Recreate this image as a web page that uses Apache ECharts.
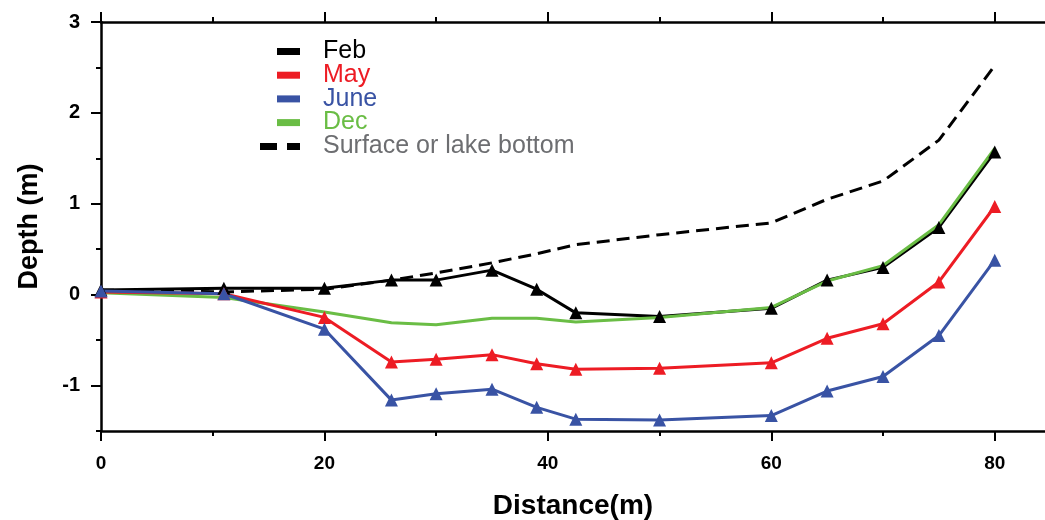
<!DOCTYPE html>
<html>
<head>
<meta charset="utf-8">
<script src="https://cdn.jsdelivr.net/npm/echarts@6/dist/echarts.min.js"></script>
<style>html,body{margin:0;padding:0;background:#fff}#c{width:1045px;height:520px}</style>
</head>
<body>
<div id="c"></div>
<script>
const distance = [0, 11, 20, 26, 30, 35, 39, 42.5, 50, 60, 65, 70, 75, 80];
const feb     = [0.05, 0.07, 0.07, 0.16, 0.16, 0.27, 0.06, -0.20, -0.24, -0.15, 0.16, 0.30, 0.74, 1.57];
const may     = [0.03, 0.01, -0.25, -0.74, -0.71, -0.66, -0.76, -0.82, -0.81, -0.75, -0.48, -0.32, 0.14, 0.97];
const june    = [0.04, 0.01, -0.38, -1.16, -1.09, -1.04, -1.24, -1.37, -1.38, -1.33, -1.06, -0.90, -0.45, 0.38];
const dec     = [0.02, -0.03, -0.19, -0.31, -0.33, -0.26, -0.26, -0.30, -0.25, -0.14, 0.15, 0.32, 0.77, 1.61];
const surface = [0.05, 0.03, 0.06, 0.16, 0.24, 0.35, 0.45, 0.55, 0.66, 0.79, 1.05, 1.25, 1.70, 2.52];

const xMajorTicks = [0, 20, 40, 60, 80];
const xMinorTicks = [10, 30, 50, 70];
const yMajorTicks = [-1, 0, 1, 2, 3];
const yMinorTicks = [-1.5, -0.5, 0.5, 1.5, 2.5];

const pairs = ys => distance.map((x, i) => [x, ys[i]]);

const FONT = '"Liberation Sans", Arial, Helvetica, sans-serif';
const C = { feb: '#000000', may: '#ED1C24', june: '#3953A4', dec: '#6ABD45', surf: '#000000', surfText: '#6D6E71' };

const X_MIN = 0, X_MAX = 84.5, Y_MIN = -1.5, Y_MAX = 3;
const lineAx = { show: true, onZero: false, lineStyle: { color: '#000', width: 2.5 } };

function xAx(pos, ticks, len, showLine, labels, name) {
  const a = {
    type: 'value', position: pos, min: X_MIN, max: X_MAX, gridIndex: 0,
    axisLine: showLine ? lineAx : { show: false, onZero: false },
    axisTick: { show: true, customValues: ticks, length: len, lineStyle: { color: '#000', width: 2 } },
    axisLabel: labels ? { show: true, customValues: ticks, fontFamily: FONT, fontWeight: 'bold', fontSize: 19, color: '#000', margin: 23 } : { show: false },
    splitLine: { show: false }
  };
  if (name) {
    a.name = name; a.nameLocation = 'middle'; a.nameGap = 61;
    a.nameTextStyle = { fontFamily: FONT, fontWeight: 'bold', fontSize: 28, color: '#000' };
  }
  return a;
}
function yAx(ticks, len, showLine, labels, name) {
  const a = {
    type: 'value', position: 'left', min: Y_MIN, max: Y_MAX, gridIndex: 0,
    axisLine: showLine ? lineAx : { show: false, onZero: false },
    axisTick: { show: true, customValues: ticks, length: len, lineStyle: { color: '#000', width: 2 } },
    axisLabel: labels ? { show: true, customValues: ticks, fontFamily: FONT, fontWeight: 'bold', fontSize: 20, color: '#000', margin: 21 } : { show: false },
    splitLine: { show: false }
  };
  if (name) {
    a.name = name; a.nameLocation = 'middle'; a.nameGap = 58;
    a.nameTextStyle = { fontFamily: FONT, fontWeight: 'bold', fontSize: 27, color: '#000' };
  }
  return a;
}

function lineSeries(name, ys, color, withSymbol, dashed) {
  return {
    name: name, type: 'line', data: pairs(ys), xAxisIndex: 0, yAxisIndex: 0,
    symbol: withSymbol ? 'triangle' : 'none', symbolSize: 13,
    itemStyle: { color: color },
    lineStyle: { color: color, width: 3, type: dashed ? [13, 7] : 'solid' },
    emphasis: { disabled: true }, animation: false, clip: false
  };
}

const chart = echarts.init(document.getElementById('c'), null, { renderer: 'canvas' });
chart.setOption({
  backgroundColor: '#ffffff',
  animation: false,
  grid: { left: 101, top: 22, right: 0, bottom: 89, containLabel: false, outerBoundsMode: 'none' },
  xAxis: [
    xAx('bottom', xMajorTicks, 10, true, true, 'Distance(m)'),
    xAx('bottom', xMinorTicks, 5, false, false),
    xAx('top', xMajorTicks, 10, true, false),
    xAx('top', xMinorTicks, 5, false, false)
  ],
  yAxis: [
    yAx(yMajorTicks, 10, true, true, 'Depth (m)'),
    yAx(yMinorTicks, 5, false, false)
  ],
  legend: [
    {
      left: 277, top: 39, padding: 0, orient: 'vertical', itemWidth: 23, itemHeight: 7, itemGap: -1.3,
      selectedMode: false,
      textStyle: { fontFamily: FONT, fontSize: 25, padding: [0, 0, 0, 18] },
      data: [
        { name: 'Feb', icon: 'rect', textStyle: { color: C.feb } },
        { name: 'May', icon: 'rect', textStyle: { color: C.may } },
        { name: 'June', icon: 'rect', textStyle: { color: C.june } },
        { name: 'Dec', icon: 'rect', textStyle: { color: C.dec } }
      ]
    },
    {
      left: 260, top: 134, padding: 0, orient: 'vertical', itemWidth: 40, itemHeight: 7,
      selectedMode: false,
      textStyle: { fontFamily: FONT, fontSize: 25, padding: [0, 0, 0, 18] },
      itemStyle: { color: '#000' },
      lineStyle: { type: 'solid' },
      data: [
        { name: 'Surface or lake bottom', icon: 'path://M0,0H17V7H0Z M27,0H40V7H27Z', textStyle: { color: C.surfText } }
      ]
    }
  ],
  series: [
    lineSeries('Surface or lake bottom', surface, C.surf, false, true),
    lineSeries('Feb', feb, C.feb, true, false),
    lineSeries('Dec', dec, C.dec, false, false),
    lineSeries('May', may, C.may, true, false),
    lineSeries('June', june, C.june, true, false)
  ]
});
</script>
</body>
</html>
